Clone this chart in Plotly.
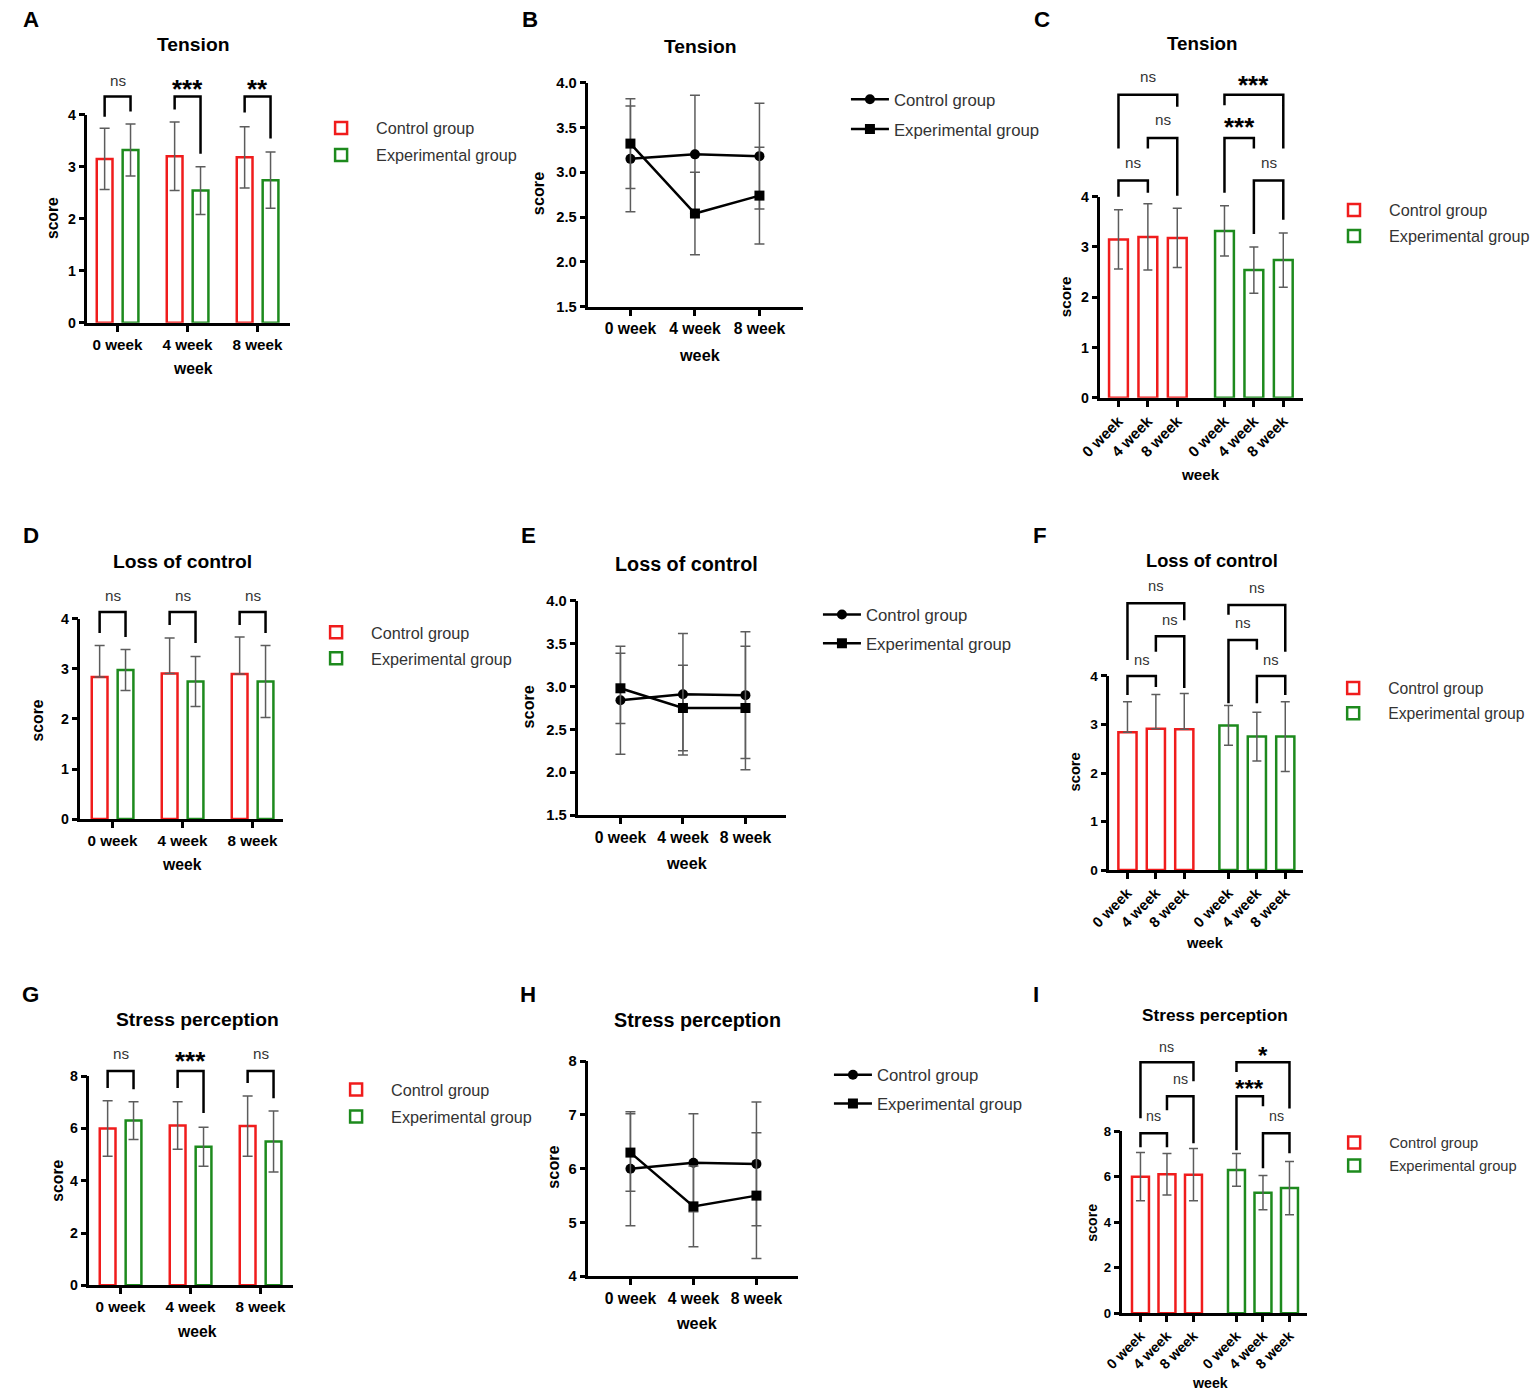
import plotly.graph_objects as go

W, H = 1535, 1395
FONT = "Liberation Sans"
# the photographed page appears scaled by (SX, SY) and shifted by (OX, OY) px; compensate
SX, OX = 0.983, 21.6
SY, OY = 0.988, 8.4
FS = 2 / (SX + SY)

# ---------------- data ----------------
weeks = ["0 week", "4 week", "8 week"]
group_names = ["Control group", "Experimental group"]

tension_ctrl = [3.15, 3.20, 3.18]
tension_ctrl_sd = [0.59, 0.66, 0.59]
tension_exp = [3.32, 2.54, 2.74]
tension_exp_sd = [0.50, 0.46, 0.54]

loss_ctrl = [2.84, 2.91, 2.90]
loss_ctrl_sd = [0.63, 0.71, 0.74]
loss_exp = [2.98, 2.75, 2.75]
loss_exp_sd = [0.41, 0.50, 0.72]

stress_ctrl = [6.00, 6.11, 6.09]
stress_ctrl_sd = [1.06, 0.91, 1.15]
stress_exp = [6.30, 5.30, 5.50]
stress_exp_sd = [0.72, 0.75, 1.17]

# between-group significance at each week
sig_between_tension = ["ns", "***", "**"]
sig_between_loss = ["ns", "ns", "ns"]
sig_between_stress = ["ns", "***", "ns"]

# within-group significance, pairs: 0-4, 4-8, 0-8 week
week_pairs = [(0, 1), (1, 2), (0, 2)]
sig_within_tension_ctrl = ["ns", "ns", "ns"]
sig_within_tension_exp = ["***", "ns", "***"]
sig_within_loss_ctrl = ["ns", "ns", "ns"]
sig_within_loss_exp = ["ns", "ns", "ns"]
sig_within_stress_ctrl = ["ns", "ns", "ns"]
sig_within_stress_exp = ["***", "ns", "*"]

# ---------------- style ----------------
RED = "#f01c1c"
GREEN = "#1d8a1d"
ERR = "#5c5c5c"
TXT = "#333333"


def px(p):
    return (p - OX) / SX


def py(p):
    return (p - OY) / SY


def fx(p):
    return px(p) / W


def fy(p):
    return 1 - py(p) / H


fig = go.Figure()
layout = {}
shapes = []
annotations = []
counters = {"x": 0, "y": 0, "legend": 0}


def new_ref(kind):
    counters[kind] += 1
    n = counters[kind]
    return kind if n == 1 else f"{kind}{n}"


def lkey(ref):
    return ref[0] + "axis" + ref[1:]


def text(x, y, s, size, bold=False, angle=0, color="black", min_page_x=None):
    xx = fx(x)
    if min_page_x is not None:
        xx = max(xx, min_page_x / W)
    annotations.append(dict(
        x=xx, y=fy(y), xref="paper", yref="paper", text=s, showarrow=False,
        textangle=angle, xanchor="center", yanchor="middle",
        font=dict(family=FONT, size=size * FS, color=color,
                  weight="bold" if bold else "normal")))


def x_axis(ref, yref, dom, rng, tickangle=0, tsize=14.5):
    layout[lkey(ref)] = dict(
        domain=dom, range=rng, type="category", categoryorder="array",
        categoryarray=weeks, anchor=yref, showline=True, linecolor="black",
        linewidth=2.5, ticks="outside", ticklen=6, tickwidth=2.5,
        tickcolor="black", showgrid=False, zeroline=False, tickangle=tickangle,
        tickfont=dict(family=FONT, size=tsize * FS, color="black", weight="bold"),
        fixedrange=True)


def y_axis(ref, xref, dom, rng, dtick, fmt, tsize=14):
    layout[lkey(ref)] = dict(
        domain=dom, range=rng, anchor=xref, tickmode="linear", tick0=rng[0],
        dtick=dtick, tickformat=fmt, showline=True, linecolor="black",
        linewidth=2.5, ticks="outside", ticklen=6, tickwidth=2.5,
        tickcolor="black", showgrid=False, zeroline=False,
        tickfont=dict(family=FONT, size=tsize * FS, color="black", weight="bold"),
        fixedrange=True)


def new_legend(sym_x, row_y, size, gap, bar=True):
    lid = new_ref("legend")
    iw = 60 if bar else 38
    left = px(sym_x) - (iw / 2 + 10)
    top = py(row_y) - 17
    layout[lid] = dict(
        x=left / W, y=1 - top / H, xanchor="left", yanchor="top",
        bgcolor="rgba(0,0,0,0)", borderwidth=0,
        font=dict(family=FONT, size=size * FS, color=TXT),
        itemwidth=iw, tracegroupgap=gap, itemclick=False, itemdoubleclick=False)
    return lid


def bracket(xr, yr, xa, xb, top, left_end, right_end, label, text_y, ymin, ymax, size):
    f = lambda u: (u - ymin) / (ymax - ymin)
    shapes.append(dict(
        type="path", xref=xr, yref=f"{yr} domain",
        path=f"M {xa},{f(left_end)} L {xa},{f(top)} L {xb},{f(top)} L {xb},{f(right_end)}",
        line=dict(color="black", width=2.5)))
    stars = label != "ns"
    fsz = (size * 1.7 if stars else size) * FS
    annotations.append(dict(
        x=(xa + xb) / 2, y=f(text_y), xref=xr, yref=f"{yr} domain", text=label,
        showarrow=False, xanchor="center", yanchor="middle",
        yshift=-0.24 * fsz if stars else 2,
        font=dict(family=FONT, size=fsz,
                  color="black" if stars else TXT,
                  weight="bold" if stars else "normal")))


def decorations(letter, lpos, title, tpos, tsize, score_pos, week_pos, asize):
    text(lpos[0], lpos[1], letter, 22, bold=True, min_page_x=9)
    text(tpos[0], tpos[1], title, tsize, bold=True)
    text(score_pos[0], score_pos[1], "score", asize, bold=True, angle=-90)
    text(week_pos[0], week_pos[1], "week", asize, bold=True)


# ---------------- panel builders ----------------
CTRL_OFF, EXP_OFF, BW = -0.295, 0.075, 0.225


def bar_between(g, ctrl, ctrl_sd, exp, exp_sd, sig, ctrl_lower=True):
    xr = new_ref("x")
    yr = new_ref("y")
    s = g["s"]
    x_axis(xr, yr, [fx(g["left"]), fx(g["right"])],
           [(g["left"] - g["c0"]) / s, (g["right"] - g["c0"]) / s], tsize=15)
    y_axis(yr, xr, [fy(g["bottom"]), fy(g["top"])], [0, g["ymax"]], g["dtick"], "d")
    lid = new_legend(g["leg"][0], g["leg"][1], 16, g["leg"][2])
    specs = [(group_names[0], ctrl, ctrl_sd, RED, CTRL_OFF, ctrl_lower),
             (group_names[1], exp, exp_sd, GREEN, EXP_OFF, True)]
    for k, (name, mean, sd, col, off, lower) in enumerate(specs):
        fig.add_trace(go.Bar(
            x=weeks, y=mean, name=name, xaxis=xr, yaxis=yr, offset=off, width=BW,
            marker=dict(color="white", line=dict(color=col, width=2.5)),
            error_y=dict(type="data", array=sd,
                         arrayminus=sd if lower else [0] * len(sd),
                         symmetric=False, color=ERR, thickness=1.5, width=5),
            legend=lid, legendgroup=f"{lid}_{k}", showlegend=True))
    for i, lab in enumerate(sig):
        xa = i + CTRL_OFF + BW / 2
        xb = i + EXP_OFF + BW / 2
        le, re = g["legs"][i]
        bracket(xr, yr, xa, xb, g["btop"], le, re, lab, g["btext"], 0, g["ymax"], 15)


def line_panel(g, ctrl, ctrl_sd, exp, exp_sd):
    xr = new_ref("x")
    yr = new_ref("y")
    s = g["s"]
    x_axis(xr, yr, [fx(g["left"]), fx(g["right"])],
           [(g["left"] - g["c0"]) / s, (g["right"] - g["c0"]) / s], tsize=15.5)
    y_axis(yr, xr, [fy(g["bottom"]), fy(g["top"])], [g["ymin"], g["ymax"]],
           g["dtick"], g["fmt"], tsize=14.5)
    lid = new_legend(g["leg"][0], g["leg"][1], 16.5, g["leg"][2], bar=False)
    specs = [(group_names[0], ctrl, ctrl_sd, "circle", 10),
             (group_names[1], exp, exp_sd, "square", 10)]
    for k, (name, mean, sd, sym, ms) in enumerate(specs):
        fig.add_trace(go.Scatter(
            x=weeks, y=mean, name=name, xaxis=xr, yaxis=yr, mode="lines+markers",
            line=dict(color="black", width=2.5),
            marker=dict(symbol=sym, size=ms, color="black"),
            error_y=dict(type="data", array=sd, color=ERR, thickness=1.5, width=5),
            legend=lid, legendgroup=f"{lid}_{k}", showlegend=True, cliponaxis=False))


def bar_within(g, ctrl, ctrl_sd, exp, exp_sd, sig_ctrl, sig_exp, ctrl_lower=True):
    xa_ref = new_ref("x")
    xb_ref = new_ref("x")
    yr = new_ref("y")
    s = g["s"]
    mid = (g["c0a"] + 2 * s + g["c0b"]) / 2
    x_axis(xa_ref, yr, [fx(g["left"]), fx(mid)],
           [(g["left"] - g["c0a"]) / s, (mid - g["c0a"]) / s], tickangle=-45, tsize=g["tk"])
    x_axis(xb_ref, yr, [fx(mid), fx(g["right"])],
           [(mid - g["c0b"]) / s, (g["right"] - g["c0b"]) / s], tickangle=-45, tsize=g["tk"])
    y_axis(yr, xa_ref, [fy(g["bottom"]), fy(g["top"])], [0, g["ymax"]], g["dtick"], "d",
           tsize=g["tk"] - 1)
    lid = new_legend(g["leg"][0], g["leg"][1], g["leg"][3], g["leg"][2])
    specs = [(group_names[0], ctrl, ctrl_sd, RED, xa_ref, ctrl_lower),
             (group_names[1], exp, exp_sd, GREEN, xb_ref, True)]
    for k, (name, mean, sd, col, xr, lower) in enumerate(specs):
        fig.add_trace(go.Bar(
            x=weeks, y=mean, name=name, xaxis=xr, yaxis=yr, width=0.64,
            marker=dict(color="white", line=dict(color=col, width=2.5)),
            error_y=dict(type="data", array=sd,
                         arrayminus=sd if lower else [0] * len(sd),
                         symmetric=False, color=ERR, thickness=1.5, width=4.5),
            legend=lid, legendgroup=f"{lid}_{k}", showlegend=True))
    for xr, sigs, geo in [(xa_ref, sig_ctrl, g["bc"]), (xb_ref, sig_exp, g["be"])]:
        for (i, j), lab, (top, txt, le, re) in zip(week_pairs, sigs, geo):
            bracket(xr, yr, i, j, top, le, re, lab, txt, 0, g["ymax"], g["sig"])


# ---------------- geometry (reference pixels) ----------------
GA = dict(left=87, right=290, bottom=323, top=115, c0=117, s=70, ymax=4, dtick=1,
          btop=4.35, btext=4.62, legs=[(3.96, 4.06), (4.10, 3.25), (4.04, 3.54)],
          leg=(345, 128, 3))
GD = dict(left=80, right=283, bottom=819, top=619, c0=112, s=70, ymax=4, dtick=1,
          btop=4.14, btext=4.42, legs=[(3.72, 3.64), (3.88, 3.52), (3.88, 3.72)],
          leg=(340, 632, 2))
GG = dict(left=89, right=293, bottom=1285, top=1076, c0=120, s=70, ymax=8, dtick=2,
          btop=8.2, btext=8.81, legs=[(7.55, 7.5), (7.55, 6.59), (7.74, 7.16)],
          leg=(360, 1089, 3))

GB = dict(left=588, right=803, bottom=307, top=83, c0=630, s=64.5, ymin=1.5, ymax=4.0,
          dtick=0.5, fmt=".1f", leg=(874, 99, 5))
GE = dict(left=578, right=786, bottom=815, top=601, c0=620, s=62.5, ymin=1.5, ymax=4.0,
          dtick=0.5, fmt=".1f", leg=(846, 614, 4))
GH = dict(left=588, right=798, bottom=1276, top=1061, c0=630, s=63, ymin=4, ymax=8,
          dtick=1, fmt="d", leg=(857, 1074, 4))

GC = dict(left=1100, right=1303, bottom=398, top=197, c0a=1118, c0b=1224, s=29.4, ymax=4,
          dtick=1, tk=15, sig=15, leg=(1358, 210, 2, 16),
          bc=[(4.32, 4.64, 4.0, 4.08), (5.17, 5.5, 4.96, 4.02), (6.03, 6.35, 4.96, 5.79)],
          be=[(5.17, 5.5, 4.08, 4.96), (4.32, 4.64, 3.26, 3.54), (6.03, 6.35, 5.82, 4.96)])
GF = dict(left=1109, right=1303, bottom=870, top=676, c0a=1127, c0b=1228, s=28.4, ymax=4,
          dtick=1, tk=14.5, sig=14.5, leg=(1357, 688, 2, 15.5),
          bc=[(4.0, 4.29, 3.61, 3.77), (4.82, 5.11, 4.5, 3.75), (5.5, 5.81, 4.33, 5.15)],
          be=[(4.74, 5.05, 3.44, 4.54), (4.0, 4.29, 3.44, 3.61), (5.46, 5.77, 5.26, 4.5)])
GI = dict(left=1122, right=1307, bottom=1313, top=1131, c0a=1140, c0b=1236, s=26.5, ymax=8,
          dtick=2, tk=14, sig=14, leg=(1358, 1143, 1, 14.5),
          bc=[(7.91, 8.57, 7.3, 7.3), (9.54, 10.2, 8.92, 7.47), (11.03, 11.6, 8.57, 10.2)],
          be=[(9.54, 10.15, 7.16, 9.1), (7.91, 8.6, 6.37, 7.03), (11.03, 11.6, 10.6, 9.0)])

# ---------------- build panels ----------------
bar_between(GA, tension_ctrl, tension_ctrl_sd, tension_exp, tension_exp_sd, sig_between_tension)
decorations("A", (18, 20), "Tension", (193, 45), 19, (52, 218), (193, 369), 15.5)

line_panel(GB, tension_ctrl, tension_ctrl_sd, tension_exp, tension_exp_sd)
decorations("B", (530, 20), "Tension", (700, 47), 19, (537, 194), (700, 355), 16)

bar_within(GC, tension_ctrl, tension_ctrl_sd, tension_exp, tension_exp_sd,
           sig_within_tension_ctrl, sig_within_tension_exp)
decorations("C", (1042, 20), "Tension", (1202, 44), 18.5, (1065, 297), (1200, 475), 15)

bar_between(GD, loss_ctrl, loss_ctrl_sd, loss_exp, loss_exp_sd, sig_between_loss, ctrl_lower=False)
decorations("D", (18, 536), "Loss of control", (182, 562), 19, (38, 720), (182, 864), 15.5)

line_panel(GE, loss_ctrl, loss_ctrl_sd, loss_exp, loss_exp_sd)
decorations("E", (528, 536), "Loss of control", (686, 564), 19.5, (528, 707), (687, 863), 16)

bar_within(GF, loss_ctrl, loss_ctrl_sd, loss_exp, loss_exp_sd,
           sig_within_loss_ctrl, sig_within_loss_exp, ctrl_lower=False)
decorations("F", (1040, 536), "Loss of control", (1212, 561), 18, (1075, 772), (1205, 943), 14.5)

bar_between(GG, stress_ctrl, stress_ctrl_sd, stress_exp, stress_exp_sd, sig_between_stress)
decorations("G", (18, 994), "Stress perception", (197, 1019), 19, (57, 1180), (197, 1331), 15.5)

line_panel(GH, stress_ctrl, stress_ctrl_sd, stress_exp, stress_exp_sd)
decorations("H", (528, 994), "Stress perception", (697, 1020), 19.5, (553, 1167), (697, 1323), 16)

bar_within(GI, stress_ctrl, stress_ctrl_sd, stress_exp, stress_exp_sd,
           sig_within_stress_ctrl, sig_within_stress_exp)
decorations("I", (1036, 994), "Stress perception", (1215, 1015), 17, (1092, 1222), (1210, 1383), 14)

fig.update_layout(
    width=W, height=H, margin=dict(l=0, r=0, t=0, b=0, pad=0),
    paper_bgcolor="white", plot_bgcolor="white", barmode="group",
    hovermode=False, showlegend=True, shapes=shapes, annotations=annotations,
    font=dict(family=FONT, color="black"),
    **layout)

fig.write_html("out.html", config={"displayModeBar": False},
               post_script="document.body.style.margin='0';")
